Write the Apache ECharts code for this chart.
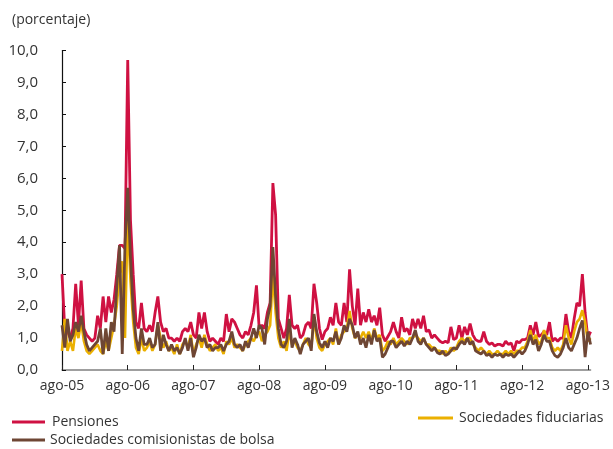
<!DOCTYPE html>
<html>
<head>
<meta charset="utf-8">
<script src="https://cdn.jsdelivr.net/npm/echarts@6/dist/echarts.min.js"></script>
<style>
  html, body { margin: 0; padding: 0; background: #fff; }
  #chart { width: 613px; height: 449px; }
</style>
</head>
<body>
<div id="chart"></div>
<script>
// half-monthly readings, ago-05 .. ago-13 (+1)
const tickLabels = ["ago-05", "ago-06", "ago-07", "ago-08", "ago-09", "ago-10", "ago-11", "ago-12", "ago-13"];
const meses = ["ene", "feb", "mar", "abr", "may", "jun", "jul", "ago", "sep", "oct", "nov", "dic"];

const pensiones = [
  3.0,1.3,1.2,1.0,1.3,2.7,1.4,2.8,1.3,1.1,1.0,0.9,1.0,1.7,1.3,2.3,1.5,2.3,1.8,2.2,3.0,3.9,3.9,3.8,9.7,
  4.7,3.0,1.5,1.3,2.1,1.3,1.2,1.4,1.2,1.8,2.3,1.5,1.2,1.3,1.0,1.0,0.9,1.0,0.9,1.2,1.3,1.2,1.5,1.1,
  1.0,1.8,1.3,1.8,1.2,0.9,1.0,0.9,0.8,1.0,0.9,1.75,1.2,1.6,1.5,1.3,1.1,1.0,1.2,1.1,1.4,1.8,2.65,1.3,
  1.4,1.3,1.8,2.1,5.85,4.85,1.6,1.3,1.0,1.3,2.35,1.4,1.3,1.4,1.0,1.1,1.4,1.5,1.3,2.7,2.1,1.3,0.95,1.2,
  1.3,1.65,1.4,2.1,1.5,1.4,2.1,1.5,3.15,2.0,1.4,2.55,1.4,1.8,1.5,1.9,1.5,1.7,1.4,1.95,1.1,0.9,1.05,1.2,
  1.5,1.2,1.0,1.65,1.2,1.3,1.1,1.6,1.3,1.6,1.3,1.7,1.2,1.25,1.0,1.1,1.0,0.9,0.85,0.9,0.85,1.35,0.95,1.0,
  1.4,1.0,1.35,1.1,1.45,1.1,0.95,0.9,0.9,1.2,0.9,0.8,0.85,0.75,0.8,0.8,0.75,0.9,0.8,0.85,0.6,0.9,0.85,0.95,
  0.95,1.0,1.4,1.1,1.5,1.05,1.1,1.2,1.1,1.5,0.9,1.0,0.9,1.0,1.0,1.75,1.2,1.0,1.6,2.1,2.0,3.0,1.8,1.0,1.2
];

const fiduciarias = [
  0.6,1.6,0.6,0.9,0.6,1.3,1.0,1.5,0.9,0.6,0.5,0.6,0.7,0.8,0.6,0.5,0.9,0.6,1.0,1.4,2.0,3.0,3.4,1.0,4.9,
  2.8,1.5,0.7,0.5,1.0,0.6,0.7,0.9,0.6,0.8,1.4,1.0,0.7,0.9,0.6,0.7,0.5,0.8,0.5,0.8,0.9,0.7,1.1,0.5,
  0.8,1.0,0.7,1.1,0.8,0.6,0.7,0.8,0.6,0.7,0.5,0.9,0.8,1.0,0.7,0.8,0.7,0.6,0.8,0.9,1.0,0.9,1.1,1.2,
  0.9,1.1,1.2,1.4,3.0,1.8,1.0,0.7,0.9,0.6,1.2,0.8,0.9,0.7,0.6,0.8,1.0,0.8,0.7,1.6,1.0,0.7,0.6,0.8,
  0.9,1.0,0.8,1.3,0.8,1.1,1.2,1.3,1.85,1.3,1.0,1.1,1.0,1.2,1.0,1.2,0.9,1.3,1.0,1.1,0.6,0.7,0.9,0.8,
  1.0,0.8,0.9,1.0,0.9,0.8,1.0,1.0,1.1,1.0,0.9,1.0,0.8,0.8,0.7,0.7,0.6,0.6,0.5,0.6,0.5,0.7,0.6,0.7,
  0.9,1.0,0.9,1.0,1.0,0.8,0.7,0.6,0.7,0.6,0.5,0.6,0.5,0.5,0.6,0.5,0.5,0.6,0.5,0.6,0.5,0.6,0.6,0.7,
  0.7,0.9,1.25,0.9,1.1,0.8,0.9,1.25,1.0,1.0,0.7,0.6,0.7,0.6,0.8,1.4,1.0,0.8,1.2,1.5,1.6,1.87,1.5,0.9,1.0
];

const comisionistas = [
  1.4,0.7,1.6,0.9,1.1,1.5,1.2,1.7,1.2,0.8,0.6,0.7,0.8,0.9,1.3,0.5,1.3,0.6,1.5,1.2,2.6,3.9,0.5,3.9,5.7,
  3.5,1.9,1.0,0.6,1.3,0.8,0.8,1.0,0.7,0.8,1.5,0.6,1.1,0.8,0.6,0.8,0.6,0.7,0.5,0.7,1.0,0.6,1.0,0.4,
  0.7,1.1,0.9,1.0,0.7,0.8,0.6,0.7,0.7,0.8,0.6,0.8,0.9,1.2,0.8,0.7,0.8,0.6,0.9,0.7,1.0,1.3,1.0,1.4,
  1.3,0.8,1.6,2.0,3.85,2.3,1.3,0.8,0.7,0.9,1.6,0.7,1.0,0.8,0.5,0.8,0.9,1.0,0.6,1.75,1.2,0.85,0.7,0.9,
  0.7,1.0,0.9,1.2,0.8,1.0,1.4,1.2,1.6,1.4,1.0,1.2,0.8,1.0,0.7,1.1,0.8,1.25,0.9,1.0,0.4,0.5,0.7,0.9,
  0.9,0.7,0.8,0.9,0.75,0.9,0.8,1.0,1.25,0.9,0.8,1.0,0.8,0.7,0.6,0.7,0.55,0.5,0.6,0.45,0.5,0.6,0.7,0.65,
  0.8,0.9,0.8,1.0,0.8,0.9,0.6,0.55,0.5,0.6,0.45,0.5,0.4,0.5,0.45,0.5,0.4,0.5,0.45,0.5,0.4,0.5,0.6,0.5,
  0.6,0.8,1.1,0.8,0.95,0.6,0.8,1.1,0.9,0.9,0.6,0.45,0.4,0.5,0.7,1.0,0.7,0.6,0.8,1.0,1.3,1.55,0.4,1.2,0.8
];

// category per half month, starting ago-05
const periodos = pensiones.map((_, i) => {
  const m = 7 + Math.floor(i / 2);
  const yy = String(5 + Math.floor(m / 12)).padStart(2, "0");
  return meses[m % 12] + "-" + yy + (i % 2 ? "/2" : "/1");
});

const font = "'Open Sans', sans-serif";
const chart = echarts.init(document.getElementById("chart"), null, { renderer: "canvas" });

chart.setOption({
  animation: false,
  backgroundColor: "#fff",
  color: ["#cf1142", "#ebb000", "#6e4634"],
  title: {
    text: "(porcentaje)",
    left: 7,
    top: 8,
    textStyle: { fontFamily: font, fontSize: 14, fontWeight: "normal", color: "#333" },
  },
  grid: { left: 62, right: 22, top: 50.5, bottom: 79 },
  legend: [
    {
      data: ["Pensiones"], left: 7, top: 410, icon: "rect", itemWidth: 33, itemHeight: 3,
      textStyle: { fontFamily: font, fontSize: 14, color: "#333", padding: [0, 0, 0, 2] },
    },
    {
      data: ["Sociedades fiduciarias"], left: 413, top: 406, icon: "rect", itemWidth: 35, itemHeight: 3,
      textStyle: { fontFamily: font, fontSize: 14, color: "#333", padding: [0, 0, 0, 1] },
    },
    {
      data: ["Sociedades comisionistas de bolsa"], left: 7, top: 428, icon: "rect", itemWidth: 33, itemHeight: 3,
      textStyle: { fontFamily: font, fontSize: 14, color: "#333", padding: [0, 0, 0, 0] },
    },
  ],
  xAxis: {
    type: "category",
    data: periodos,
    boundaryGap: false,
    axisLine: { lineStyle: { color: "#808080", width: 1.5 } },
    axisTick: { inside: true, length: 5, interval: (i) => i % 24 === 0, lineStyle: { color: "#222" } },
    axisLabel: {
      interval: (i) => i % 24 === 0,
      formatter: (v, i) => tickLabels[i / 24],
      fontFamily: font, fontSize: 14, color: "#333", margin: 9,
    },
    splitLine: { show: false },
  },
  yAxis: {
    type: "value",
    min: 0,
    max: 10,
    interval: 1,
    axisLine: { show: true, lineStyle: { color: "#111", width: 1.2 } },
    axisTick: { show: true, inside: true, length: 4, lineStyle: { color: "#111" } },
    axisLabel: {
      formatter: (v) => v.toFixed(1).replace(".", ","),
      fontFamily: font, fontSize: 15, color: "#333", margin: 24,
    },
    splitLine: { show: false },
  },
  series: [
    { name: "Pensiones", type: "line", data: pensiones, symbol: "none", lineStyle: { width: 2.8 } },
    { name: "Sociedades fiduciarias", type: "line", data: fiduciarias, symbol: "none", lineStyle: { width: 2.6 } },
    { name: "Sociedades comisionistas de bolsa", type: "line", data: comisionistas, symbol: "none", lineStyle: { width: 2.8 } },
  ],
});
</script>
</body>
</html>
